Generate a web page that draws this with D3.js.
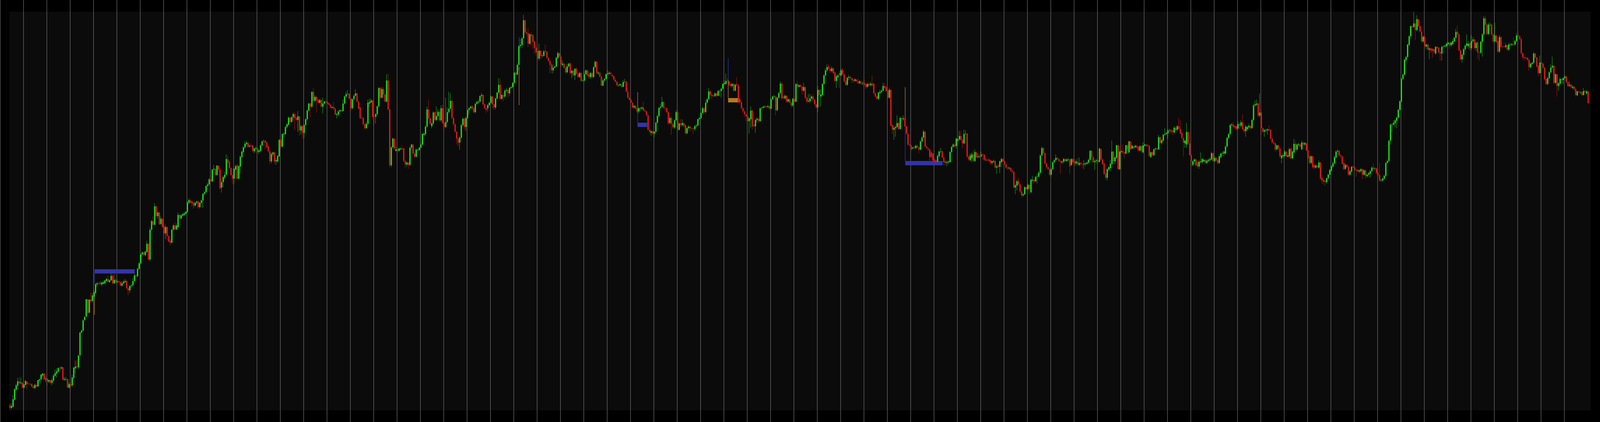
<!doctype html>
<html lang="en">
<head>
<meta charset="utf-8">
<title>Chart</title>
<script src="https://d3js.org/d3.v7.min.js"></script>
<style>
  html, body { margin: 0; padding: 0; background: #000; width: 100%; height: 100%; overflow: hidden; }
  svg { display: block; width: 100vw; height: 100vh; }
</style>
</head>
<body>
<svg id="chart" viewBox="0 0 5140 1080" preserveAspectRatio="none"></svg>
<script>
// one value per bar, 15 bars per row (= one grid column)
var opens = [
13,6,9,27,53,63,74,69,70,58,65,73,68,67,67,
62,57,65,61,76,79,89,94,79,81,73,77,70,76,88,
94,99,108,107,110,78,79,80,58,66,64,83,107,112,110,
141,199,204,231,240,284,250,283,280,292,300,322,325,324,322,
324,325,331,336,328,333,344,325,334,328,330,328,319,325,328,
331,312,307,318,320,331,345,343,362,376,399,404,397,405,426,
386,462,484,475,522,497,506,477,490,470,453,469,446,434,429,
462,473,463,469,500,491,498,500,503,508,531,537,534,531,524,
531,534,520,531,537,554,558,574,578,591,586,616,617,602,626,
616,570,584,595,603,642,636,620,602,593,616,627,593,624,648,
661,673,681,684,675,678,678,663,669,671,661,664,678,688,690,
686,675,663,637,655,660,637,637,650,692,675,706,707,725,731,
749,738,750,758,748,743,752,716,727,710,730,745,767,785,777,
815,792,802,794,787,794,777,785,790,789,786,782,774,776,772,
756,757,765,768,766,785,803,809,810,798,773,796,805,811,790,
775,749,748,732,722,733,785,788,793,752,751,758,778,825,800,
822,808,790,844,770,627,673,695,664,668,664,668,670,670,638,
629,634,628,672,680,657,649,666,666,672,680,705,707,726,770,
747,727,734,763,743,753,764,742,773,735,725,738,763,772,792,
748,732,713,695,685,698,730,746,725,748,768,773,778,773,763,
784,788,790,804,807,783,773,773,781,787,803,783,775,798,813,
833,797,806,803,818,820,811,825,827,838,864,859,884,932,935,
952,998,967,965,938,962,960,944,928,920,900,920,907,907,920,
918,902,894,885,870,877,880,901,914,905,884,887,877,865,880,
888,863,869,857,874,861,853,863,843,844,860,870,860,853,863,
853,878,892,862,864,854,831,844,848,860,861,864,858,855,846,
841,831,832,832,828,840,841,816,800,795,787,775,779,772,765,
772,772,775,767,765,755,718,710,714,708,713,736,753,774,777,
789,774,773,763,735,748,733,724,742,763,718,734,730,735,730,
709,722,726,722,721,720,727,729,745,748,761,773,763,787,796,
816,807,806,804,811,805,816,817,823,835,835,843,842,835,830,
835,818,835,832,795,788,773,765,757,752,740,745,767,730,727,
743,746,740,773,774,777,778,776,778,772,796,803,803,768,800,
812,836,803,798,805,790,796,787,780,797,790,835,828,832,828,
818,827,800,790,791,798,803,795,783,775,820,803,807,835,857,
870,880,874,868,875,865,843,853,863,857,872,860,843,833,851,
853,850,846,843,846,842,837,838,836,837,835,828,835,832,836,
836,811,804,797,812,815,818,830,827,818,800,820,730,718,722,
725,735,720,748,745,747,727,708,680,678,670,672,671,677,673,
667,688,698,713,675,670,667,660,657,642,639,637,650,662,663,
647,637,633,635,635,661,674,680,676,690,693,702,692,683,707,
708,649,640,645,655,638,660,648,649,650,655,654,640,641,642,
640,633,636,638,621,627,623,635,643,637,629,621,619,620,613,
610,570,575,587,578,560,550,553,571,566,577,558,588,590,586,
597,598,608,652,671,658,632,622,617,603,617,635,640,646,643,
638,634,636,643,638,641,642,628,643,636,632,636,628,633,630,
629,630,631,634,641,664,648,635,638,640,636,668,642,632,606,
595,616,620,630,662,637,646,678,617,661,663,660,657,678,660,
688,670,672,673,677,674,665,676,660,677,680,679,677,648,661,
653,668,670,668,699,684,690,705,707,709,716,717,715,711,723,
718,727,720,710,697,683,680,712,683,653,628,637,642,635,624,
635,635,637,641,633,638,640,642,658,638,646,641,633,648,657,
657,657,675,697,707,730,731,727,727,721,731,728,737,720,714,
719,724,728,722,743,780,782,785,754,762,722,713,717,716,719,
718,695,685,683,668,678,670,645,650,651,662,649,650,670,645,
660,682,667,679,680,668,685,680,683,665,650,633,650,628,621,
626,621,634,595,590,587,584,594,603,613,624,632,647,662,664,
653,650,633,618,628,624,603,611,624,622,616,615,611,612,617,
603,614,599,603,605,612,621,618,619,607,602,588,588,593,600,
633,638,690,730,731,735,741,749,769,790,848,859,896,904,935,
957,983,981,990,973,1000,983,969,944,956,931,936,923,926,925,
924,913,930,928,916,913,930,931,932,937,941,934,937,944,953,
969,962,921,898,910,924,933,932,940,927,945,949,927,942,916,
915,943,962,1003,987,963,986,987,962,944,959,945,918,955,931,
931,930,934,923,935,935,937,936,945,960,957,950,914,904,903,
902,897,878,886,889,913,903,882,863,890,887,877,848,835,850,
865,877,882,838,860,830,836,848,845,850,854,840,830,833,825,
828,822,806,816,813,814,807,817,811,816
];

var closes = [
6,11,28,54,64,74,69,71,58,66,75,67,67,66,61,
57,65,61,77,79,91,94,80,81,73,77,70,77,89,95,
100,108,107,110,78,80,80,58,67,63,84,109,112,110,140,
199,204,230,239,284,249,283,279,294,302,323,325,324,325,327,
328,332,336,329,333,344,325,334,328,330,328,319,325,329,331,
312,307,318,320,331,345,343,362,376,399,404,398,406,426,386,
462,484,475,522,497,506,476,490,469,452,469,446,432,429,462,
473,463,473,500,491,499,502,504,508,532,538,531,529,524,531,
534,520,531,537,554,558,574,578,591,586,616,618,602,626,616,
568,584,597,603,643,634,620,602,593,618,625,593,625,649,662,
673,682,685,674,677,676,664,670,671,660,665,678,688,689,685,
673,663,637,656,660,636,640,651,692,675,707,708,725,732,749,
738,750,758,747,743,752,716,727,710,730,745,767,785,777,815,
792,802,793,787,794,777,785,790,788,785,782,775,776,772,757,
758,765,768,765,785,803,809,810,798,773,796,805,811,790,772,
748,747,732,722,733,787,789,793,751,751,758,778,825,800,822,
808,790,844,770,627,673,695,670,668,664,670,670,668,638,629,
634,628,672,680,657,649,667,667,672,680,707,708,726,770,747,
733,734,762,743,753,764,742,773,735,725,738,763,772,792,748,
732,713,695,685,698,730,746,725,748,768,773,777,772,763,784,
789,790,804,807,783,773,769,781,787,803,783,775,798,813,833,
797,807,803,818,820,812,825,827,838,864,859,884,932,935,952,
998,967,964,938,962,958,943,927,916,900,920,907,908,918,918,
902,894,884,870,877,880,902,914,905,885,887,877,865,880,887,
863,869,857,874,861,853,863,843,844,860,870,857,853,863,853,
878,892,863,864,854,831,844,848,860,862,864,860,855,846,841,
832,832,835,828,840,841,816,800,795,787,775,779,772,765,773,
773,775,767,765,755,718,713,714,708,713,736,753,774,777,789,
774,773,763,735,748,733,724,742,763,718,734,730,735,727,709,
722,726,722,721,720,727,729,745,748,761,773,763,787,796,816,
807,804,804,811,805,817,817,823,835,838,843,842,833,830,835,
818,833,832,788,788,773,765,757,752,740,747,767,727,727,743,
746,740,773,774,777,778,776,778,772,796,803,804,768,800,812,
836,798,799,805,790,796,787,780,797,790,835,828,832,828,818,
827,800,790,792,798,803,795,783,775,820,807,808,835,857,870,
878,874,868,875,863,843,855,857,857,870,860,842,833,851,853,
850,845,843,847,842,837,842,836,837,833,827,835,832,836,831,
811,803,797,813,815,818,830,825,817,800,820,728,718,723,725,
735,720,748,745,747,727,708,680,678,667,672,673,677,673,667,
688,698,713,675,671,667,648,648,639,638,635,651,662,663,647,
635,633,635,637,661,674,680,676,695,693,702,692,683,707,708,
649,642,652,655,638,661,648,650,650,654,653,641,641,640,638,
633,637,638,621,624,623,637,643,637,629,621,619,621,613,610,
570,576,586,578,560,550,553,571,566,577,568,590,590,586,597,
598,608,652,671,658,632,622,617,603,617,635,640,646,643,638,
635,636,643,638,642,642,625,643,635,632,637,630,633,630,629,
631,632,634,641,664,648,635,638,640,635,670,642,630,605,595,
617,622,631,662,637,647,678,617,662,663,660,657,678,667,688,
668,677,673,677,672,665,676,663,678,680,676,677,651,660,653,
668,670,668,699,684,691,705,707,710,716,717,713,712,723,718,
727,720,708,697,685,690,712,683,653,637,637,642,627,624,636,
637,643,641,633,639,641,643,658,638,646,639,633,650,657,658,
662,675,697,707,730,732,726,723,720,732,732,737,719,714,726,
725,728,722,743,780,783,785,754,762,722,713,717,718,719,717,
695,685,683,667,678,670,650,652,653,662,650,652,668,645,662,
682,667,680,681,675,685,680,684,665,645,633,650,622,621,626,
623,634,593,588,585,584,594,603,615,625,632,648,662,664,653,
650,631,617,628,623,603,612,623,622,616,613,611,614,617,603,
614,600,603,607,612,621,618,619,607,602,588,589,593,600,633,
638,690,731,731,736,742,749,769,791,848,859,897,904,936,957,
983,981,990,973,1001,983,969,944,956,931,936,923,926,920,920,
917,930,927,916,913,930,931,933,938,941,934,941,945,953,968,
962,921,898,910,924,933,939,938,927,945,949,927,940,916,915,
943,962,1003,987,963,987,987,962,944,959,942,918,955,930,930,
930,934,923,936,936,937,936,945,959,957,950,914,903,902,901,
897,878,887,889,913,903,880,863,890,887,877,847,835,850,865,
877,882,838,860,830,837,848,845,850,854,840,830,833,827,828,
822,807,816,815,814,807,817,815,816,786
];

var highs = [
17,18,39,56,68,83,84,85,74,68,77,75,70,70,69,
63,68,70,78,82,93,95,95,86,82,79,78,82,93,104,
107,110,112,113,111,85,85,81,72,70,91,111,127,128,142,
200,206,233,241,285,285,284,301,300,307,326,328,328,330,329,
332,334,339,345,336,350,349,348,340,334,333,331,330,333,336,
334,314,320,323,339,349,349,365,380,402,406,406,408,434,428,
468,487,496,530,523,508,509,496,493,476,474,470,448,438,464,
476,480,478,506,504,502,505,508,510,536,542,541,538,536,534,
537,538,533,540,556,562,576,583,594,596,618,628,619,628,627,
620,592,600,610,655,652,640,622,605,620,628,630,627,652,664,
675,688,690,688,680,683,680,672,675,674,668,681,691,693,692,
689,680,665,660,662,662,645,654,694,694,709,712,727,735,752,
751,752,762,762,750,766,754,731,730,732,748,770,787,787,816,
825,806,805,797,797,797,800,793,795,793,788,785,778,790,775,
761,768,770,770,795,806,815,820,812,800,798,808,822,813,792,
778,752,750,735,738,795,797,798,795,755,760,780,827,826,827,
827,810,860,862,772,676,698,697,676,670,672,673,677,672,640,
637,636,675,682,682,660,670,670,675,685,710,712,730,777,795,
749,738,765,765,778,770,766,780,782,737,800,775,815,812,795,
750,734,715,697,701,733,750,749,752,771,776,780,781,775,788,
792,795,806,812,809,786,775,784,790,806,805,785,800,815,850,
848,810,812,822,825,822,828,830,840,866,867,888,935,950,955,
1012,1001,975,978,965,968,963,946,936,930,938,922,911,922,936,
920,904,896,888,885,882,905,918,916,908,895,890,880,887,889,
890,871,872,876,878,863,866,866,848,868,872,872,868,866,866,
880,895,895,868,866,856,847,851,862,870,868,866,860,858,848,
843,835,836,834,845,848,843,818,802,797,789,782,781,774,775,
776,778,790,770,767,757,720,717,716,715,738,756,776,785,802,
791,776,775,765,752,752,735,745,767,768,737,745,745,737,732,
725,730,728,724,723,730,733,747,752,763,777,775,795,800,825,
820,810,808,814,813,820,820,826,838,845,862,850,844,840,838,
838,836,853,835,798,790,775,768,760,755,750,778,770,732,745,
750,748,775,776,780,780,779,782,780,800,805,807,805,802,815,
842,840,806,808,806,799,798,790,800,800,837,842,834,835,830,
838,829,803,810,810,806,810,797,785,830,822,822,838,860,875,
885,886,878,880,878,867,860,860,868,875,876,862,845,853,858,
856,852,848,850,848,849,845,845,842,845,837,838,840,840,857,
838,813,806,815,820,822,838,838,830,820,825,822,732,728,730,
755,738,752,750,755,749,729,710,682,680,675,676,680,680,675,
692,702,718,715,677,672,670,663,659,645,642,655,665,672,665,
650,640,638,640,663,677,683,685,698,697,715,715,695,718,717,
710,651,658,660,665,668,663,658,655,662,658,656,646,645,645,
642,640,642,640,628,630,640,646,645,640,631,623,623,622,615,
612,580,590,595,580,562,556,573,573,580,580,593,600,592,600,
605,612,655,675,673,660,634,624,620,620,637,643,655,650,645,
640,640,646,645,645,646,644,645,646,640,642,646,647,635,632,
640,635,637,645,666,666,650,642,643,642,672,670,645,634,608,
620,625,640,690,665,650,680,680,665,666,680,662,680,680,690,
690,680,676,680,680,676,678,678,686,683,682,682,679,662,663,
670,673,672,705,702,694,708,722,713,720,720,720,718,727,726,
730,749,743,712,699,692,735,714,685,655,640,645,644,637,640,
660,646,645,643,642,645,647,662,660,650,648,643,655,660,662,
665,678,700,710,733,735,738,730,730,740,735,742,757,722,730,
728,733,730,746,785,793,795,790,810,770,725,720,720,722,730,
720,697,688,685,680,680,672,655,658,665,664,656,672,672,665,
695,690,683,685,683,690,688,687,686,667,652,653,652,630,630,
628,640,636,597,592,589,596,606,618,628,636,652,665,668,666,
655,652,635,632,630,626,614,625,626,624,618,617,617,620,619,
617,616,606,610,615,624,633,622,621,609,633,592,596,603,635,
642,692,733,735,742,745,752,772,793,852,862,900,907,938,960,
985,986,1020,998,1011,1003,985,971,958,958,939,938,928,928,927,
926,932,932,930,918,933,934,936,941,944,943,944,950,956,976,
985,965,923,912,927,936,962,945,942,960,955,951,944,944,918,
946,965,1008,1010,990,992,993,990,964,992,962,947,960,958,933,
933,940,936,940,940,940,955,948,965,970,960,953,916,906,905,
904,900,890,892,917,915,905,884,908,892,890,880,850,853,868,
885,905,884,863,862,840,852,850,853,858,858,842,842,836,832,
830,825,818,818,817,816,825,820,820,818
];

var lows = [
0,3,8,26,49,59,67,68,56,55,64,54,66,65,59,
55,54,57,60,70,70,84,77,72,63,70,68,64,75,87,
84,97,100,104,77,75,75,58,56,55,59,78,95,105,105,
138,197,202,228,238,247,248,275,276,289,299,316,320,321,318,
322,323,329,328,326,331,322,323,324,325,326,317,316,323,326,
310,294,300,313,316,330,330,340,359,374,393,396,394,403,383,
381,460,473,474,495,490,474,474,466,450,438,435,430,423,427,
460,461,461,467,489,488,495,498,500,506,528,528,520,515,520,
527,516,516,528,518,550,555,565,574,583,584,613,598,600,610,
565,557,572,590,600,630,616,600,578,580,612,590,591,605,645,
658,670,678,672,672,673,660,658,666,657,655,661,675,685,668,
670,660,630,632,650,630,628,633,648,670,672,700,705,722,729,
735,736,742,717,740,712,703,705,695,696,728,742,765,750,773,
790,788,762,785,785,775,760,782,786,783,780,773,772,768,755,
747,752,763,762,764,783,800,806,795,766,770,792,803,788,770,
745,744,728,718,720,730,777,786,745,730,734,755,775,795,798,
806,788,788,768,622,622,670,668,662,661,662,666,665,635,620,
624,618,626,666,655,645,647,663,664,670,678,703,705,724,744,
730,722,730,740,740,751,738,738,733,720,722,735,760,770,745,
729,710,680,675,667,695,727,718,715,745,758,770,768,760,760,
782,786,788,800,780,770,762,765,778,785,772,768,770,795,810,
794,795,790,800,815,800,805,822,825,836,855,857,870,927,927,
950,962,958,930,935,932,925,913,908,895,895,898,902,905,916,
898,892,862,862,862,875,878,898,900,878,880,874,862,862,878,
860,850,855,845,858,852,850,841,842,842,858,855,848,848,850,
850,876,860,858,851,830,829,842,845,858,858,857,850,842,838,
829,828,829,825,826,838,813,797,792,785,772,772,768,762,760,
765,768,765,762,752,715,708,703,705,699,711,734,750,770,775,
770,765,760,730,732,705,720,720,740,715,716,725,726,724,705,
706,718,713,717,708,716,722,727,742,746,758,757,760,784,794,
803,798,800,802,802,803,805,800,820,832,832,838,830,826,826,
815,816,828,785,783,770,760,750,740,735,708,723,718,725,710,
737,735,738,770,772,774,773,774,770,770,794,800,755,765,798,
810,795,795,795,787,788,785,775,776,788,788,825,826,826,808,
815,795,785,788,786,792,790,780,772,763,805,778,805,832,855,
866,870,862,865,860,840,825,850,825,855,857,838,830,830,845,
845,838,838,840,838,834,835,832,832,830,822,825,828,829,828,
808,800,795,794,810,812,816,822,814,798,798,726,707,692,700,
722,718,718,742,741,725,705,677,675,665,668,670,668,670,658,
665,686,696,672,668,664,638,645,637,632,633,635,648,658,644,
627,625,625,630,633,658,672,672,670,688,690,690,670,680,704,
646,638,637,635,635,635,645,645,645,648,641,638,637,636,635,
628,628,633,618,605,620,607,632,634,626,618,615,616,610,605,
568,553,563,575,555,543,546,550,563,562,552,555,585,580,583,
580,596,605,650,655,628,618,614,600,598,615,632,637,640,635,
605,630,633,635,636,638,605,625,632,628,625,626,625,625,620,
617,625,628,630,638,635,632,615,632,632,634,640,627,602,590,
588,612,612,628,630,630,644,614,615,658,655,645,655,665,658,
665,668,669,670,668,660,662,660,657,675,673,675,648,646,650,
650,665,665,666,682,680,688,703,705,695,712,710,705,708,715,
715,718,705,693,650,672,672,680,650,625,625,630,624,620,618,
632,630,635,630,630,636,638,640,635,635,636,630,630,645,652,
650,655,673,695,705,725,722,718,716,718,728,725,716,710,700,
716,720,718,720,740,778,780,750,750,705,710,700,712,705,714,
692,682,680,662,665,663,645,632,645,648,645,647,645,642,642,
658,665,664,676,672,665,676,678,662,642,630,630,618,616,618,
620,618,590,580,578,575,580,590,600,610,620,630,644,655,650,
645,628,615,615,620,600,600,608,620,613,598,608,607,608,592,
600,593,596,598,595,610,615,615,603,598,585,585,585,590,597,
630,635,680,712,728,725,722,746,766,788,845,856,892,901,932,
950,978,978,948,970,980,966,940,940,928,925,920,898,915,902,
913,910,924,913,895,895,925,928,928,934,925,930,935,942,950,
958,918,895,890,907,920,930,925,920,922,940,923,920,900,895,
912,905,958,984,960,960,983,958,940,942,938,915,914,925,926,
927,927,920,920,932,932,933,933,942,955,947,910,898,895,898,
893,869,875,884,886,900,876,855,860,884,874,843,832,832,848,
862,875,835,835,803,818,833,840,835,848,837,827,828,824,822,
818,803,804,812,810,804,805,812,808,784
];

// marked zones (bar index from/to, price top/bottom)
var zoneFrom = [54.26, 403.2, 461.4, 575.2];
var zoneTo = [80.2, 409.4, 468.6, 599.2];
var zoneTop = [361, 736, 799, 638];
var zoneBottom = [350, 725, 788, 627];
var zoneSide = ['buy', 'buy', 'sell', 'buy'];

// thin vertical markers (bar index, price from/to)
var markBar = [54.26, 54.26, 327.1, 327.1, 403.3, 403.3, 461.5, 461.5, 575.2, 575.2];
var markFrom = [350, 301, 955, 878, 736, 763, 799, 845, 638, 740];
var markTo = [325, 244, 932, 781, 763, 814, 845, 901, 735, 827];
var markSide = ['buy', 'sell', 'buy', 'sell', 'buy', 'sell', 'sell', 'buy', 'buy', 'sell'];

var W = 5140, H = 1080;
var plotLeft = 30, plotTop = 30, plotRight = 5110, plotBottom = 1050;
var n = closes.length;

var x = d3.scaleLinear().domain([0, n - 1]).range([32, 32 + 5 * (n - 1)]);
var y = d3.scaleLinear().domain([0, 1020]).range([plotBottom, plotTop]);

var zoneFill = { buy: '#3333a8', sell: '#b4791e' };
var markColor = { buy: '#2d2d98', sell: '#9c6c32' };
var up = '#19e619', down = '#e61919';

var svg = d3.select('#chart');

svg.append('rect')
  .attr('width', W).attr('height', H)
  .attr('fill', '#000');

svg.append('rect')
  .attr('x', plotLeft).attr('y', plotTop)
  .attr('width', plotRight - plotLeft).attr('height', plotBottom - plotTop)
  .attr('fill', '#0b0b0b');

// vertical grid every 15 bars, runs through the frame too
var gridBars = d3.range(-6.3, n - 2, 15);
svg.append('g')
  .selectAll('line')
  .data(gridBars)
  .enter()
  .append('line')
    .attr('x1', function(d){ return Math.floor(x(d)) + 0.5; })
    .attr('x2', function(d){ return Math.floor(x(d)) + 0.5; })
    .attr('y1', 0)
    .attr('y2', H)
    .style('stroke', '#969696')
    .style('stroke-width', 1);

// zones
svg.append('g')
  .selectAll('rect')
  .data(d3.range(zoneFrom.length))
  .enter()
  .append('rect')
    .attr('x', function(i){ return x(zoneFrom[i]); })
    .attr('width', function(i){ return x(zoneTo[i]) - x(zoneFrom[i]); })
    .attr('y', function(i){ return y(zoneTop[i]); })
    .attr('height', function(i){ return y(zoneBottom[i]) - y(zoneTop[i]); })
    .attr('fill', function(i){ return zoneFill[zoneSide[i]]; });

svg.append('g')
  .selectAll('line')
  .data(d3.range(markBar.length))
  .enter()
  .append('line')
    .attr('x1', function(i){ return x(markBar[i]); })
    .attr('x2', function(i){ return x(markBar[i]); })
    .attr('y1', function(i){ return y(markFrom[i]); })
    .attr('y2', function(i){ return y(markTo[i]); })
    .style('stroke', function(i){ return markColor[markSide[i]]; })
    .style('stroke-width', 2);

// candles
var bars = svg.append('g')
  .selectAll('g')
  .data(d3.range(n))
  .enter()
  .append('g')
    .attr('fill', function(i){ return closes[i] >= opens[i] ? up : down; });

bars.append('rect')
  .attr('x', function(i){ return x(i) - 1; })
  .attr('width', 1)
  .attr('y', function(i){ return y(Math.max(highs[i], opens[i], closes[i])); })
  .attr('height', function(i){
    var h = y(Math.min(lows[i], opens[i], closes[i])) - y(Math.max(highs[i], opens[i], closes[i]));
    return Math.max(1, h);
  });

bars.append('rect')
  .attr('x', function(i){ return x(i) - 2; })
  .attr('width', 4)
  .attr('y', function(i){ return y(Math.max(opens[i], closes[i])); })
  .attr('height', function(i){ return Math.max(1, Math.abs(y(opens[i]) - y(closes[i]))); });
</script>
</body>
</html>
